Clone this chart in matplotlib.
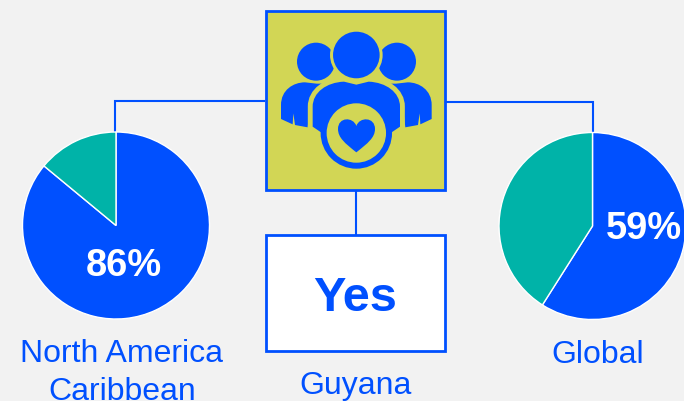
import matplotlib
matplotlib.use("Agg")
import matplotlib.pyplot as plt
from matplotlib.patches import Circle, Rectangle, PathPatch
from matplotlib.path import Path

W, H = 684, 401
BG = "#F2F2F2"
BLUE = "#0050FF"
TEAL = "#00B3A8"
YELLOW = "#D2D655"

plt.rcParams["font.family"] = ["Liberation Sans", "DejaVu Sans"]

regions = ["North America", "Caribbean", "Global"]
shares = [86, 59]
share_labels = ["86%", "59%"]
guyana_label = "Guyana"
guyana_value = "Yes"

fig = plt.figure(figsize=(W / 100, H / 100), dpi=100, facecolor=BG)
ax = fig.add_axes([0, 0, 1, 1])
ax.set_facecolor(BG)

def Y(py):
    return H - py

def Z(zx, zy):
    """Icon coordinates measured on a 3x crop with origin (260,5)."""
    return (260 + zx / 3, Y(5 + zy / 3))

def poly(cmds, **kw):
    verts, codes = [], []
    for c, pts in cmds:
        for p in pts:
            verts.append(Z(*p))
        if c == "M":
            codes.append(Path.MOVETO)
        elif c == "L":
            codes += [Path.LINETO] * len(pts)
        elif c == "C":
            codes += [Path.CURVE4] * len(pts)
    verts.append(verts[0])
    codes.append(Path.CLOSEPOLY)
    ax.add_patch(PathPatch(Path(verts, codes), **kw))

# pies
pie_centres = [(116, Y(225.5)), (592.5, Y(226))]
for share, centre in zip(shares, pie_centres):
    ax.pie([share, 100 - share], colors=[BLUE, TEAL], startangle=90, counterclock=False,
           center=centre, radius=93.5, frame=True,
           wedgeprops=dict(edgecolor="white", linewidth=1.0, zorder=3))
ax.set_xlim(0, W)
ax.set_ylim(0, H)
ax.set_aspect("auto")
ax.axis("off")

# connectors
line = dict(color=BLUE, lw=1.5, solid_capstyle="butt", solid_joinstyle="miter", zorder=1)
ax.plot([265, 115, 115], [Y(100.5), Y(100.5), Y(132)], **line)
ax.plot([445, 593, 593], [Y(102), Y(102), Y(132)], **line)
ax.plot([355.5, 355.5], [Y(190), Y(235)], **line)

# boxes
ax.add_patch(Rectangle((265.7, Y(190.3)), 179.3, 179.3, fc=YELLOW, ec=BLUE, lw=2, zorder=2))
ax.add_patch(Rectangle((265.7, Y(351)), 179.3, 116, fc="white", ec=BLUE, lw=2, zorder=2))

# icon
icon = dict(fc=BLUE, ec="none", zorder=4)
for hx in (168, 411):
    cx, cy = Z(hx, 170)
    ax.add_patch(Circle((cx, cy), 19, **icon))
cx, cy = Z(289, 150)
ax.add_patch(Circle((cx, cy), 26.3, fc=YELLOW, ec="none", zorder=5))
ax.add_patch(Circle((cx, cy), 23.3, fc=BLUE, ec="none", zorder=6))

poly([("M", [(63, 342)]), ("L", [(63, 300)]),
      ("C", [(63, 255), (100, 232), (135, 232)]),
      ("L", [(170, 236), (215, 236), (150, 300), (143, 367), (105, 360), (100, 325), (98, 358)])], **icon)
poly([("M", [(515, 342)]), ("L", [(515, 300)]),
      ("C", [(515, 255), (478, 232), (443, 232)]),
      ("L", [(408, 236), (363, 236), (428, 300), (436, 367), (474, 360), (479, 325), (481, 358)])], **icon)

body = [("M", [(158, 365)]), ("L", [(158, 305)]),
        ("C", [(158, 262), (200, 232), (252, 230)]),
        ("L", [(289, 239), (326, 230)]),
        ("C", [(378, 232), (420, 262), (420, 305)]),
        ("L", [(420, 365), (395, 382), (183, 382)])]
poly(body, fc=YELLOW, ec=YELLOW, lw=7, zorder=5)
poly(body, fc=BLUE, ec="none", zorder=6)
cx, cy = Z(289, 384)
ax.add_patch(Circle((cx, cy), 35.7, fc=BLUE, ec="none", zorder=7))
ax.add_patch(Circle((cx, cy), 29.7, fc=YELLOW, ec="none", zorder=8))
poly([("M", [(289, 442)]),
      ("C", [(255, 415), (234, 398), (234, 372)]),
      ("C", [(234, 335), (280, 335), (289, 363)]),
      ("C", [(298, 335), (345, 335), (345, 372)]),
      ("C", [(345, 398), (323, 415), (289, 442)])], fc=BLUE, ec="none", zorder=9)

# text
base = dict(ha="center", va="baseline", zorder=5)
ax.text(124, Y(276), share_labels[0], color="white", fontsize=27.4, fontweight="bold", **base)
ax.text(644, Y(239), share_labels[1], color="white", fontsize=27.4, fontweight="bold", **base)
ax.text(122, Y(362), regions[0], color=BLUE, fontsize=23, **base)
ax.text(122, Y(399.5), regions[1], color=BLUE, fontsize=23, **base)
ax.text(598, Y(363), regions[2], color=BLUE, fontsize=23, **base)
ax.text(355.5, Y(394), guyana_label, color=BLUE, fontsize=23, **base)
ax.text(355.5, Y(311), guyana_value, color=BLUE, fontsize=35, fontweight="bold", **base)

fig.savefig("out.png", dpi=100, facecolor=BG)
